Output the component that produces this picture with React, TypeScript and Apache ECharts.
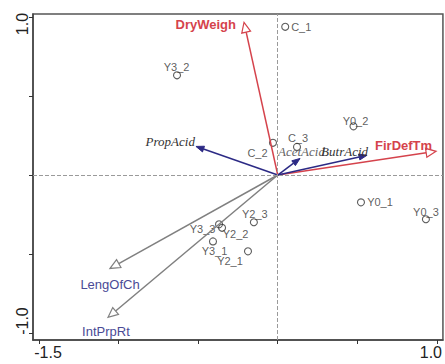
import React, { useEffect, useRef } from 'react';
import * as echarts from 'echarts';

// ---- data ----
const siteNames = ['C_1', 'Y3_2', 'Y0_2', 'C_2', 'C_3', 'Y0_1', 'Y0_3', 'Y2_3', 'Y3_3', 'Y2_2', 'Y3_1', 'Y2_1'];
const siteX = [0.047, -0.633, 0.476, -0.03, 0.121, 0.523, 0.931, -0.15, -0.369, -0.35, -0.407, -0.187];
const siteY = [0.938, 0.631, 0.308, 0.204, 0.178, -0.173, -0.28, -0.299, -0.312, -0.334, -0.42, -0.483];

const varNames = ['DryWeigh', 'FirDefTm', 'PropAcid', 'AcetAcid', 'ButrAcid', 'LengOfCh', 'IntPrpRt'];
const varX = [-0.212, 0.995, -0.514, 0.14, 0.561, -1.054, -1.067];
const varY = [0.966, 0.15, 0.181, 0.105, 0.125, -0.591, -0.901];
const varGroup = ['response', 'response', 'acid', 'acid', 'acid', 'trait', 'trait'];

const xTicks = [-1.5, -1, -0.5, 0, 0.5, 1];
const yTicks = [-1, -0.5, 0, 0.5, 1];
const xTickLabels = [-1.5, 1.0];
const yTickLabels = [-1.0, 1.0];

// ---- styles / layout ----
const SANS = '"Liberation Sans", Arial, sans-serif';
const SERIF = '"Liberation Serif", "Times New Roman", serif';

const groupStyle: Record<string, any> = {
  response: { color: '#d5434c', open: true, L: 10, W: 4.5, font: `bold 13px ${SANS}`, text: '#d5434c' },
  acid: { color: '#2c2a85', open: false, L: 8, W: 3, font: `italic 13px ${SERIF}`, text: '#333333' },
  trait: { color: '#808080', open: true, L: 10, W: 4.5, font: `13px ${SANS}`, text: '#4a4a96' },
};

const varLabelLayout: Record<string, any> = {
  DryWeigh: { dx: -8, dy: 2, align: 'right' },
  FirDefTm: { dx: -4, dy: -6, align: 'right' },
  PropAcid: { dx: -1, dy: -5, align: 'right' },
  AcetAcid: { dx: -22, dy: -7, align: 'left', text: '#666666' },
  ButrAcid: { dx: 1, dy: -4, align: 'right' },
  LengOfCh: { dx: 0, dy: 16, align: 'center' },
  IntPrpRt: { dx: -2, dy: 14, align: 'center' },
};

const siteLabelOffset: Record<string, number[]> = {
  C_1: [16, 0],
  Y3_2: [-0.5, -8],
  Y0_2: [2, -5],
  C_2: [-15.5, 10.5],
  C_3: [1, -9],
  Y0_1: [19, 0],
  Y0_3: [0, -7],
  Y2_3: [1, -8],
  Y3_3: [-16.5, 5],
  Y2_2: [13.5, 6.5],
  Y3_1: [1.5, 10],
  Y2_1: [-18, 10],
};

export default function App() {
  const ref = useRef<HTMLDivElement>(null);

  useEffect(() => {
    if (!ref.current) return;
    const chart = echarts.init(ref.current, undefined, { renderer: 'svg' });

    const siteData = siteNames.map((n, i) => ({
      name: n,
      value: [siteX[i], siteY[i]],
      label: { offset: siteLabelOffset[n] },
    }));

    const arrowData = varNames.map((n, i) => ({ name: n, value: [varX[i], varY[i], i] }));

    const renderArrow = (params: any, api: any) => {
      const i = api.value(2);
      const name = varNames[i];
      const st = groupStyle[varGroup[i]];
      const lay = varLabelLayout[name];
      const o = api.coord([0, 0]);
      const t = api.coord([api.value(0), api.value(1)]);
      const dx = t[0] - o[0];
      const dy = t[1] - o[1];
      const len = Math.sqrt(dx * dx + dy * dy) || 1;
      const ux = dx / len;
      const uy = dy / len;
      const bx = t[0] - st.L * ux;
      const by = t[1] - st.L * uy;
      const nx = -uy;
      const ny = ux;
      const pts = [
        [t[0], t[1]],
        [bx + st.W * nx, by + st.W * ny],
        [bx - st.W * nx, by - st.W * ny],
      ];
      return {
        type: 'group',
        children: [
          {
            type: 'line',
            shape: { x1: o[0], y1: o[1], x2: bx, y2: by },
            style: { stroke: st.color, lineWidth: 1.5 },
          },
          {
            type: 'polygon',
            shape: { points: pts },
            style: st.open
              ? { fill: '#ffffff', stroke: st.color, lineWidth: 1.2 }
              : { fill: st.color, stroke: st.color, lineWidth: 1 },
          },
          {
            type: 'text',
            style: {
              text: name,
              x: t[0] + lay.dx,
              y: t[1] + lay.dy,
              align: lay.align,
              verticalAlign: 'middle',
              font: st.font,
              fill: lay.text || st.text,
            },
          },
        ],
      };
    };

    chart.setOption({
      animation: false,
      backgroundColor: '#ffffff',
      grid: {
        left: 33,
        right: 2,
        top: 14,
        bottom: 24,
        show: true,
        borderColor: '#555555',
        borderWidth: 1.5,
        backgroundColor: 'transparent',
      },
      xAxis: {
        type: 'value',
        min: -1.538,
        max: 1.038,
        axisLine: { onZero: false, lineStyle: { color: '#444444', width: 1.5 } },
        axisTick: { customValues: xTicks, length: 4, lineStyle: { color: '#333333', width: 1 } },
        axisLabel: {
          customValues: xTickLabels,
          margin: 4,
          formatter: (v: number) => (v < 0 ? `{l|${v.toFixed(1)}}` : `{r|${v.toFixed(1)}}`),
          rich: {
            l: { fontSize: 16, fontFamily: SANS, color: '#222222', padding: [0, 0, 0, 18] },
            r: { fontSize: 16, fontFamily: SANS, color: '#222222', padding: [0, 12, 0, 0] },
          },
        },
        splitLine: { show: false },
      },
      yAxis: {
        type: 'value',
        min: -1.044,
        max: 1.019,
        axisLine: { onZero: false, lineStyle: { color: '#444444', width: 1.5 } },
        axisTick: { customValues: yTicks, length: 4, lineStyle: { color: '#333333', width: 1 } },
        axisLabel: {
          customValues: yTickLabels,
          rotate: 90,
          margin: 3,
          formatter: (v: number) => (v < 0 ? `{l|${v.toFixed(1)}}` : `{r|${v.toFixed(1)}}`),
          rich: {
            l: { fontSize: 16, fontFamily: SANS, color: '#222222', padding: [0, 0, 0, 24] },
            r: { fontSize: 16, fontFamily: SANS, color: '#222222', padding: [0, 14, 0, 0] },
          },
        },
        splitLine: { show: false },
      },
      series: [
        {
          type: 'scatter',
          symbol: 'circle',
          symbolSize: 7,
          itemStyle: { color: 'rgba(0,0,0,0)', borderColor: '#333333', borderWidth: 1.1 },
          label: {
            show: true,
            position: 'inside',
            formatter: '{b}',
            fontFamily: SANS,
            fontSize: 11,
            color: '#333333',
          },
          data: siteData,
          markLine: {
            silent: true,
            symbol: ['none', 'none'],
            label: { show: false },
            lineStyle: { color: '#9a9a9a', width: 1, type: [4, 2] },
            data: [{ xAxis: 0 }, { yAxis: 0 }],
          },
          z: 2,
        },
        {
          type: 'custom',
          coordinateSystem: 'cartesian2d',
          encode: { x: 0, y: 1 },
          renderItem: renderArrow,
          data: arrowData,
          z: 3,
        },
      ],
    });

    return () => chart.dispose();
  }, []);

  return (
    <div
      ref={ref}
      style={{ position: 'absolute', left: 0, top: 0, width: 445, height: 364 }}
    />
  );
}
